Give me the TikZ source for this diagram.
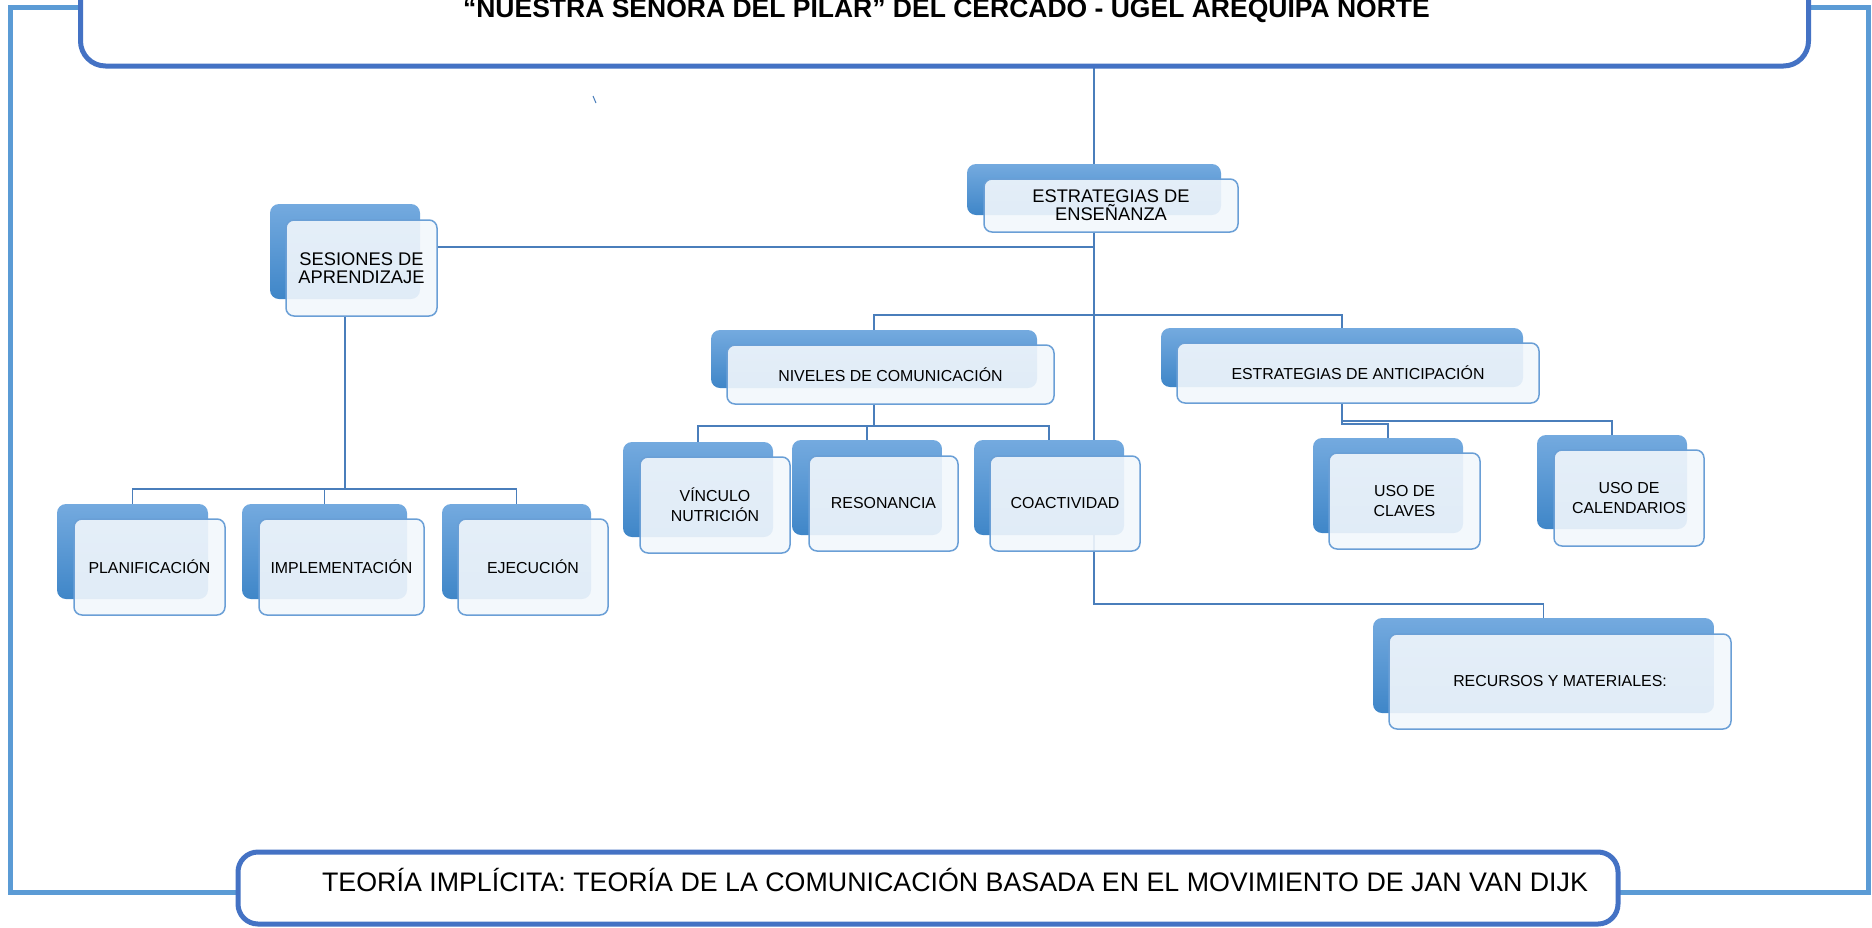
\documentclass[tikz,border=0pt]{standalone}
\usepackage{fontspec}
\setmainfont{Liberation Sans}
\usetikzlibrary{backgrounds}
\definecolor{linec}{HTML}{4A7EBB}
\definecolor{backtop}{HTML}{74AADF}
\definecolor{backbot}{HTML}{3F86C8}
\definecolor{frontline}{HTML}{6A9FD6}
\definecolor{frontfill}{HTML}{F2F7FC}
\definecolor{framec}{HTML}{5B9BD5}
\definecolor{bigc}{HTML}{4472C4}
\newcommand\fa{\fontsize{18.3}{18}\selectfont}
\newcommand\fb{\fontsize{15.9}{20}\selectfont}
\newcommand\hf{\fontsize{26.5}{30}\selectfont\bfseries}
\newcommand\tf{\fontsize{26.8}{30}\selectfont}
\begin{document}
\begin{tikzpicture}[x=1pt,y=-1pt,
  conn/.style={draw=linec, line width=1.8pt},
  backbox/.style={rounded corners=9pt, top color=backtop, bottom color=backbot, draw=none, inner sep=0pt, outer sep=0pt},
  frontbox/.style={rounded corners=8pt, draw=frontline, line width=1.5pt, fill=frontfill, fill opacity=0.9, text opacity=1, align=center, inner sep=0pt, outer sep=0pt, text=black},
  frame/.style={draw=framec, line width=5pt, line join=miter},
  bigbox/.style={draw=bigc, line width=5pt, fill=white, outer sep=0pt},
]
\useasboundingbox (0,0) rectangle (1872,927);

% header and footer
\node[bigbox, rounded corners=25pt, minimum width=1728pt, minimum height=110pt] (hdr) at (944.5,11) {};
\node[font=\hf, anchor=base, inner sep=0pt] (hdrtext) at (946.5,17) {“NUESTRA SEÑORA DEL PILAR” DEL CERCADO - UGEL AREQUIPA NORTE};
\node[bigbox, rounded corners=20pt, minimum width=1380pt, minimum height=72pt] (foot) at (928,888) {};
\node[font=\tf, anchor=base, inner sep=0pt] (foottext) at (955,891) {TEORÍA IMPLÍCITA: TEORÍA DE LA COMUNICACIÓN BASADA EN EL MOVIMIENTO DE JAN VAN DIJK};

% boxes
\node[backbox, minimum width=254pt, minimum height=51pt] (bestr) at (1094,189.5) {};
\node[frontbox, minimum width=254pt, minimum height=53pt, font=\fa] (estr) at (1111,205.5) {ESTRATEGIAS DE\\ENSEÑANZA};

\node[backbox, minimum width=150pt, minimum height=95pt] (bses) at (345,251.5) {};
\node[frontbox, minimum width=151pt, minimum height=96pt, font=\fa] (ses) at (361.5,268) {SESIONES DE\\APRENDIZAJE};

\node[backbox, minimum width=151pt, minimum height=95pt] (bplan) at (132.5,551.5) {};
\node[frontbox, minimum width=151pt, minimum height=96pt, font=\fb] (plan) at (149.5,567) {PLANIFICACIÓN};

\node[backbox, minimum width=165pt, minimum height=95pt] (bimpl) at (324.5,551.5) {};
\node[frontbox, minimum width=165pt, minimum height=96pt, font=\fb] (impl) at (341.5,567) {IMPLEMENTACIÓN};

\node[backbox, minimum width=149pt, minimum height=95pt] (bejec) at (516.5,551.5) {};
\node[frontbox, minimum width=150pt, minimum height=96pt, font=\fb] (ejec) at (533,567) {EJECUCIÓN};

\node[backbox, minimum width=326pt, minimum height=58pt] (bniv) at (874,359) {};
\node[frontbox, minimum width=327pt, minimum height=59pt, font=\fb] (niv) at (890.5,374.5) {NIVELES DE COMUNICACIÓN};

\node[backbox, minimum width=362pt, minimum height=59pt] (banti) at (1342,357.5) {};
\node[frontbox, minimum width=362pt, minimum height=60pt, font=\fb] (anti) at (1358,373) {ESTRATEGIAS DE ANTICIPACIÓN};

\node[backbox, minimum width=150pt, minimum height=95pt] (bvinc) at (698,489.5) {};
\node[frontbox, minimum width=150pt, minimum height=96pt, font=\fb] (vinc) at (715,505) {VÍNCULO\\NUTRICIÓN};

\node[backbox, minimum width=150pt, minimum height=95pt] (breso) at (867,487.5) {};
\node[frontbox, minimum width=149pt, minimum height=95pt, font=\fb] (reso) at (883.5,503.5) {RESONANCIA};

\node[backbox, minimum width=150pt, minimum height=95pt] (bcoac) at (1049,487.5) {};
\node[frontbox, minimum width=150pt, minimum height=95pt, font=\fb] (coac) at (1065,503.5) {COACTIVIDAD};

\node[backbox, minimum width=150pt, minimum height=95pt] (bclav) at (1388,485.5) {};
\node[frontbox, minimum width=151pt, minimum height=96pt, font=\fb] (clav) at (1404.5,501) {USO DE\\CLAVES};

\node[backbox, minimum width=150pt, minimum height=94pt] (bcale) at (1612,482) {};
\node[frontbox, minimum width=150pt, minimum height=96pt, font=\fb] (cale) at (1629,498) {USO DE\\CALENDARIOS};

\node[backbox, minimum width=341pt, minimum height=95pt] (brecu) at (1543.5,665.5) {};
\node[frontbox, minimum width=342pt, minimum height=95pt, font=\fb] (recu) at (1560,681.5) {RECURSOS Y MATERIALES:};

% junctions
\coordinate (j0) at (1094,247);
\coordinate (j1) at (1094,315);
\coordinate (j5) at (1094,604);
\coordinate (j2) at (874,426);
\coordinate (j3) at (1342,421);
\coordinate (j4) at (1342,424);
\coordinate (j6) at (345,489);
\coordinate (fTL) at (10.5,7.5);
\coordinate (fTR) at (1868,7.5);
\coordinate (fBL) at (10.5,892);
\coordinate (fBR) at (1868,892);
\coordinate (tickA) at (593,96);
\coordinate (tickB) at (596,103);

\begin{scope}[on background layer]
\draw[frame] (hdr.west |- fTL) -- (fTL) -- (fBL) -- (foot.west |- fBL);
\draw[frame] (hdr.east |- fTR) -- (fTR) -- (fBR) -- (foot.east |- fBR);
\draw[conn] (hdr.south -| bestr.north) -- (bestr.north);
\draw[conn] (estr.south -| bestr.north) -- (j5) -| (brecu.north);
\draw[conn] (ses.east |- j0) -- (j0);
\draw[conn] (bniv.north) |- (banti.north |- j1) -- (banti.north);
\draw[conn] (niv.south -| bniv.north) -- (j2);
\draw[conn] (bvinc.north) |- (bcoac.north |- j2) -- (bcoac.north);
\draw[conn] (breso.north) -- (breso.north |- j2);
\draw[conn] (anti.south -| banti.north) -- (j4) -| (bclav.north);
\draw[conn] (j3) -| (bcale.north);
\draw[conn] (ses.south -| bses.north) -- (j6);
\draw[conn] (bplan.north) |- (bejec.north |- j6) -- (bejec.north);
\draw[conn] (bimpl.north) -- (bimpl.north |- j6);
\draw[conn, line width=1pt] (tickA) -- (tickB);
\end{scope}
\end{tikzpicture}
\end{document}
